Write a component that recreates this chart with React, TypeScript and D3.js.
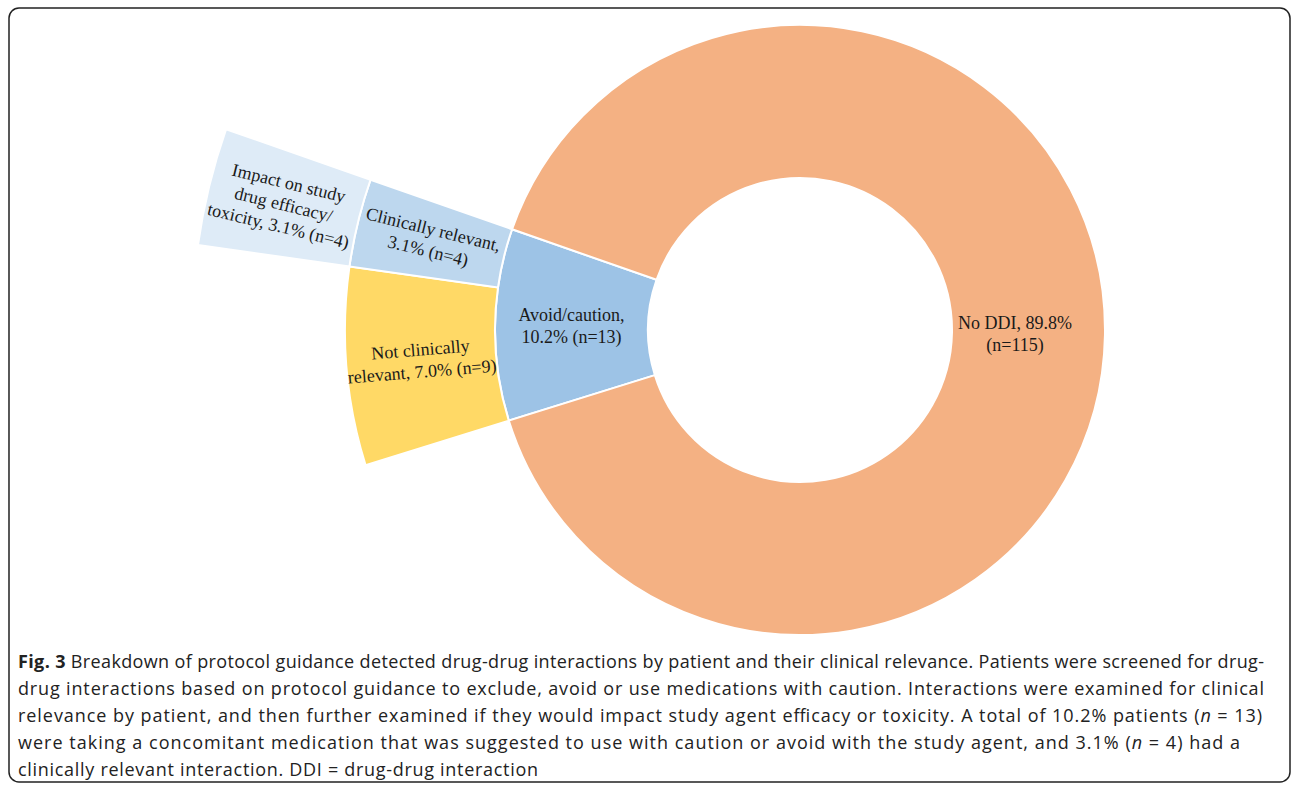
import React from "react";
import * as d3 from "d3";

// ---- Data ----
const innerCategories = ["Avoid/caution", "No DDI"];
const innerValues = [13, 115];
const innerLabels = [["Avoid/caution,", "10.2% (n=13)"], ["No DDI, 89.8%", "(n=115)"]];

const midCategories = ["Not clinically relevant", "Clinically relevant"];
const midValues = [9, 4];
const midLabels = [["Not clinically", "relevant, 7.0% (n=9)"], ["Clinically relevant,", "3.1% (n=4)"]];

const outerCategories = ["Impact on study drug efficacy/toxicity"];
const outerValues = [4];
const outerOffset = 9; // sits over "Clinically relevant"
const outerLabels = [["Impact on study", "drug efficacy/", "toxicity, 3.1% (n=4)"]];

const captionBold = "Fig. 3";
const captionLines = [
  " Breakdown of protocol guidance detected drug-drug interactions by patient and their clinical relevance. Patients were screened for drug-",
  "drug interactions based on protocol guidance to exclude, avoid or use medications with caution. Interactions were examined for clinical",
  "relevance by patient, and then further examined if they would impact study agent efficacy or toxicity. A total of 10.2% patients (|n| = 13)",
  "were taking a concomitant medication that was suggested to use with caution or avoid with the study agent, and 3.1% (|n| = 4) had a",
  "clinically relevant interaction. DDI = drug-drug interaction",
];
const captionLineEnds = [1264, 1264, 1262, 1240, 538];

const colors: Record<string, string> = {
  "No DDI": "#F4B183",
  "Avoid/caution": "#9DC3E6",
  "Clinically relevant": "#BDD7EE",
  "Not clinically relevant": "#FFD966",
  "Impact on study drug efficacy/toxicity": "#DEEBF7",
};

const W = 1292;
const H = 787;
const cx = 800;
const cy = 330;
const r0 = 152, r1 = 305, r2 = 455, r3 = 608;

export default function App() {
  const total = d3.sum(innerValues);
  const centerDeg = 271;
  const startDeg = centerDeg - (innerValues[0] / total) * 180;
  const angle = d3
    .scaleLinear()
    .domain([0, total])
    .range([(startDeg * Math.PI) / 180, (startDeg * Math.PI) / 180 + 2 * Math.PI]);

  const arc = d3.arc<any>();

  const cum = (vals: number[], off = 0) => {
    let acc = off;
    return vals.map((v) => {
      const s = acc;
      acc += v;
      return [s, acc];
    });
  };

  type Seg = { cat: string; a0: number; a1: number; ri: number; ro: number; lines: string[]; rot: boolean };
  const segs: Seg[] = [];
  cum(innerValues).forEach(([s, e], i) =>
    segs.push({ cat: innerCategories[i], a0: angle(s), a1: angle(e), ri: r0, ro: r1, lines: innerLabels[i], rot: false })
  );
  cum(midValues).forEach(([s, e], i) =>
    segs.push({ cat: midCategories[i], a0: angle(s), a1: angle(e), ri: r1, ro: r2, lines: midLabels[i], rot: true })
  );
  cum(outerValues, outerOffset).forEach(([s, e], i) =>
    segs.push({ cat: outerCategories[i], a0: angle(s), a1: angle(e), ri: r2, ro: r3, lines: outerLabels[i], rot: true })
  );

  const fs = 18;
  const lh = 22;

  const renderCaptionLine = (line: string) => {
    const parts = line.split("|");
    return parts.map((p, i) => (
      <tspan key={i} fontStyle={i % 2 === 1 ? "italic" : "normal"}>
        {p}
      </tspan>
    ));
  };

  const capX = 18;
  const capBase = [668, 695, 722, 749, 776];

  return (
    <svg
      width={W}
      height={H}
      style={{ position: "absolute", left: 0, top: 0, background: "#fff" }}
    >
      <rect x={9} y={8} width={1281} height={774} rx={10} ry={10} fill="none" stroke="#222" strokeWidth={1.5} />
      <g transform={`translate(${cx},${cy})`}>
        {segs.map((s, i) => (
          <path
            key={i}
            d={arc({ innerRadius: s.ri, outerRadius: s.ro, startAngle: s.a0, endAngle: s.a1 }) as string}
            fill={colors[s.cat]}
            stroke="#fff"
            strokeWidth={2}
          />
        ))}
        {segs.map((s, i) => {
          let [x, y] = arc.centroid({ innerRadius: s.ri, outerRadius: s.ro, startAngle: s.a0, endAngle: s.a1 } as any);
          const mid = ((s.a0 + s.a1) / 2) * (180 / Math.PI);
          const rot = s.rot ? mid - 270 : 0;
          if (s.cat === "No DDI") {
            x = 215;
            y = 4;
          }
          const n = s.lines.length;
          return (
            <text
              key={"t" + i}
              transform={`translate(${x},${y}) rotate(${rot})`}
              textAnchor="middle"
              fontFamily="'Liberation Serif', 'Times New Roman', serif"
              fontSize={fs}
              fill="#1a1a1a"
            >
              {s.lines.map((l, j) => (
                <tspan key={j} x={0} y={(j - (n - 1) / 2) * lh + fs * 0.33}>
                  {l}
                </tspan>
              ))}
            </text>
          );
        })}
      </g>
      <g fontFamily="'Open Sans', sans-serif" fontSize={18} fill="#222">
        {captionLines.map((line, i) => (
          <text
            key={i}
            x={capX}
            y={capBase[i]}
            textLength={captionLineEnds[i] - capX}
            lengthAdjust="spacing"
          >
            {i === 0 && <tspan fontWeight="bold">{captionBold}</tspan>}
            {renderCaptionLine(line)}
          </text>
        ))}
      </g>
    </svg>
  );
}
